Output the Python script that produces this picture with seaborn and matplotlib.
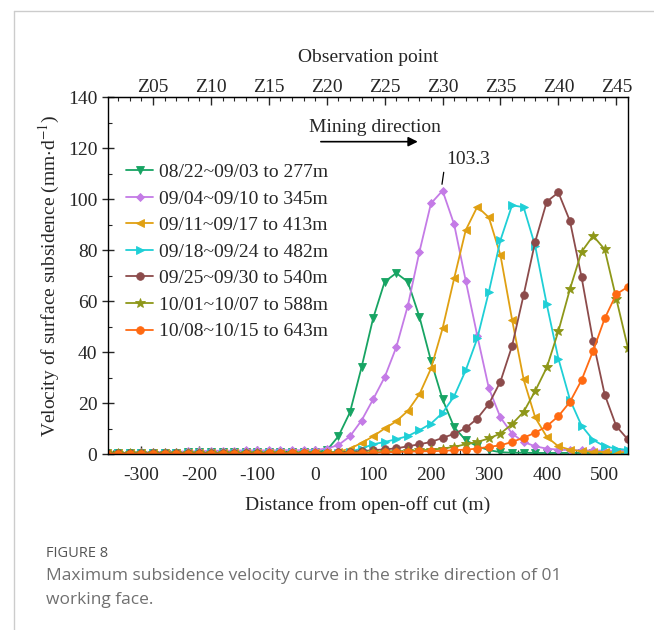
import matplotlib
matplotlib.use("Agg")
import matplotlib.pyplot as plt
from matplotlib.lines import Line2D
from matplotlib.ticker import MultipleLocator, FixedLocator
import seaborn as sns

# distance from open-off cut (m), one point per observation station
distance = [-360, -340, -320, -300, -280, -260, -240, -220, -200, -180,
            -160, -140, -120, -100, -80, -60, -40, -20, 0, 20,
            40, 60, 80, 100, 120, 140, 160, 180, 200, 220,
            240, 260, 280, 300, 320, 340, 360, 380, 400, 420,
            440, 460, 480, 500, 520, 540]

v_0822 = [0.5, 0.5, 0.5, 0.6, 0.6, 0.6, 0.6, 0.7, 0.7, 0.7,
          0.7, 0.7, 0.8, 0.8, 0.8, 0.8, 0.8, 0.8, 0.9, 1.5,
          7.0, 16.4, 34.0, 53.2, 67.6, 71.0, 67.6, 53.9, 36.6, 21.5,
          10.6, 5.5, 3.1, 1.6, 0.8, 0.6, 0.6, 0.5, 0.5, 0.5,
          0.5, 0.5, 0.5, 0.5, 0.5, 0.5]
v_0904 = [0.4, 0.5, 0.6, 0.7, 0.8, 0.9, 1.0, 1.1, 1.2, 1.3,
          1.4, 1.4, 1.5, 1.5, 1.5, 1.6, 1.6, 1.6, 1.7, 2.2,
          3.6, 7.0, 13.2, 21.5, 30.2, 41.9, 58.2, 79.3, 98.3, 103.3,
          90.1, 68.0, 46.4, 25.8, 14.4, 8.1, 4.8, 3.1, 2.2, 1.8,
          1.6, 1.5, 1.5, 1.4, 1.4, 1.3]
v_0911 = [0.3, 0.3, 0.3, 0.3, 0.3, 0.3, 0.3, 0.3, 0.3, 0.3,
          0.3, 0.3, 0.3, 0.3, 0.3, 0.4, 0.4, 0.4, 0.4, 0.5,
          1.0, 2.2, 4.4, 7.0, 10.1, 12.9, 17.0, 23.5, 33.6, 49.3,
          68.9, 87.8, 97.0, 92.8, 78.0, 52.8, 29.3, 14.4, 6.8, 3.1,
          1.8, 1.2, 1.0, 0.9, 0.8, 0.8]
v_0918 = [0.3, 0.3, 0.3, 0.3, 0.3, 0.3, 0.3, 0.3, 0.3, 0.3,
          0.3, 0.3, 0.3, 0.3, 0.3, 0.3, 0.3, 0.3, 0.3, 0.4,
          0.6, 1.0, 2.2, 3.9, 4.8, 5.9, 7.1, 9.4, 12.0, 16.2,
          22.7, 32.9, 45.4, 63.7, 83.9, 97.6, 96.8, 81.6, 58.7, 37.5,
          21.4, 11.2, 5.6, 3.1, 2.2, 1.7]
v_0925 = [0.4, 0.4, 0.4, 0.4, 0.4, 0.4, 0.4, 0.4, 0.4, 0.4,
          0.4, 0.4, 0.4, 0.4, 0.4, 0.4, 0.5, 0.5, 0.5, 0.6,
          0.8, 1.0, 1.2, 1.6, 1.9, 2.3, 3.1, 3.9, 4.8, 6.4,
          8.0, 10.2, 14.0, 19.7, 28.5, 42.4, 62.4, 83.3, 99.0, 102.6,
          91.4, 69.5, 44.3, 23.4, 11.0, 5.8]
v_1001 = [0.3, 0.3, 0.3, 0.3, 0.3, 0.3, 0.3, 0.3, 0.3, 0.3,
          0.3, 0.3, 0.3, 0.3, 0.3, 0.3, 0.3, 0.4, 0.4, 0.4,
          0.5, 0.5, 0.6, 0.7, 0.9, 1.0, 1.2, 1.5, 1.8, 2.2,
          2.9, 3.9, 4.8, 6.2, 8.1, 11.8, 16.6, 24.8, 34.0, 48.2,
          64.7, 79.3, 85.6, 80.3, 61.0, 41.8]
v_1008 = [0.2, 0.2, 0.2, 0.2, 0.2, 0.2, 0.2, 0.2, 0.2, 0.2,
          0.2, 0.2, 0.2, 0.2, 0.3, 0.3, 0.3, 0.3, 0.3, 0.4,
          0.4, 0.5, 0.5, 0.6, 0.7, 0.9, 1.0, 1.1, 1.2, 1.3,
          1.6, 1.8, 2.2, 2.9, 3.5, 4.8, 6.5, 8.4, 11.0, 14.9,
          20.5, 29.0, 40.5, 53.2, 62.7, 65.6]

series = [v_0822, v_0904, v_0911, v_0918, v_0925, v_1001, v_1008]
labels = ["08/22~09/03 to 277m", "09/04~09/10 to 345m", "09/11~09/17 to 413m",
          "09/18~09/24 to 482m", "09/25~09/30 to 540m", "10/01~10/07 to 588m",
          "10/08~10/15 to 643m"]
colors = ["#17a463", "#c47be6", "#e0a012", "#1fcfd6", "#8c4b4b", "#8e9719", "#ff6a12"]
markers = ["v", "D", "<", ">", "o", "*", "o"]

obs_pos = [-280, -180, -80, 20, 120, 220, 320, 420, 520]
obs_labels = ["Z05", "Z10", "Z15", "Z20", "Z25", "Z30", "Z35", "Z40", "Z45"]

sns.set_style("ticks")
plt.rcParams["font.family"] = ["Liberation Serif", "DejaVu Serif"]
plt.rcParams["mathtext.fontset"] = "stix"
plt.rcParams["axes.unicode_minus"] = False

fig = plt.figure(figsize=(6.54, 6.3), dpi=100)
ax = fig.add_axes([0.165, 0.279, 0.795, 0.567])

for y, lab, c, m in zip(series, labels, colors, markers):
    ms = 7.5 if m == "*" else (4.5 if m == "D" else 5.5)
    sns.lineplot(x=distance, y=y, ax=ax, color=c, marker=m, ms=ms,
                 mec=c, mew=0.6, lw=1.3, label=lab)

ax.set_xlim(-358, 540)
ax.set_ylim(0, 140)
ax.xaxis.set_major_locator(FixedLocator([-300, -200, -100, 0, 100, 200, 300, 400, 500]))
ax.xaxis.set_minor_locator(MultipleLocator(50))
ax.yaxis.set_major_locator(MultipleLocator(20))
ax.yaxis.set_minor_locator(MultipleLocator(10))
ax.tick_params(axis="x", which="major", direction="in", length=6, width=1,
               labelsize=14, pad=9)
ax.tick_params(axis="x", which="minor", direction="in", length=3, width=0.8)
ax.tick_params(axis="y", which="major", direction="inout", length=8, width=1, labelsize=14)
ax.tick_params(axis="y", which="minor", direction="in", length=3, width=0.8)
for s in ax.spines.values():
    s.set_linewidth(1)
    s.set_color("black")

ax.set_xlabel("Distance from open-off cut (m)", fontsize=14, labelpad=9)
ax.set_ylabel(r"Velocity of surface subsidence (mm$\cdot$d$^{\mathrm{-1}}$)", fontsize=14, labelpad=4)

top = ax.secondary_xaxis("top")
top.set_xticks(obs_pos, obs_labels)
top.xaxis.set_minor_locator(MultipleLocator(20, offset=0))
top.tick_params(which="major", direction="in", length=6, width=1, labelsize=14, pad=1)
top.tick_params(which="minor", direction="in", length=3, width=0.8)
top.set_xlabel("Observation point", fontsize=14, labelpad=12)

ax.legend(loc="upper left", bbox_to_anchor=(0.035, 0.814), frameon=False,
          fontsize=14, handlelength=1.4, handletextpad=0.3, labelspacing=0.46,
          borderaxespad=0, borderpad=0)

ax.text(103, 128, "Mining direction", fontsize=14, ha="center", va="center")
ax.annotate("", xy=(182, 122.5), xytext=(5, 122.5),
            arrowprops=dict(arrowstyle="-|>", color="black", lw=1.2, mutation_scale=14))
ax.plot([219, 222], [105.8, 110.5], color="black", lw=0.9)
ax.text(226, 115.5, "103.3", fontsize=14, ha="left", va="center")

# page frame and caption
fig.add_artist(Line2D([0.0214, 0.0214], [0, 0.9825], transform=fig.transFigure,
                      color="#cccccc", lw=1))
fig.add_artist(Line2D([0.0214, 1], [0.9825, 0.9825], transform=fig.transFigure,
                      color="#cccccc", lw=1))
fig.text(0.070, 0.122, "FIGURE 8", fontsize=10.5, color="#555555",
         family="Open Sans", va="center")
fig.text(0.070, 0.085, "Maximum subsidence velocity curve in the strike direction of 01",
         fontsize=12.5, color="#707070", family="Open Sans", va="center")
fig.text(0.070, 0.047, "working face.", fontsize=12.5, color="#707070",
         family="Open Sans", va="center")

fig.savefig("out.png", dpi=100)
